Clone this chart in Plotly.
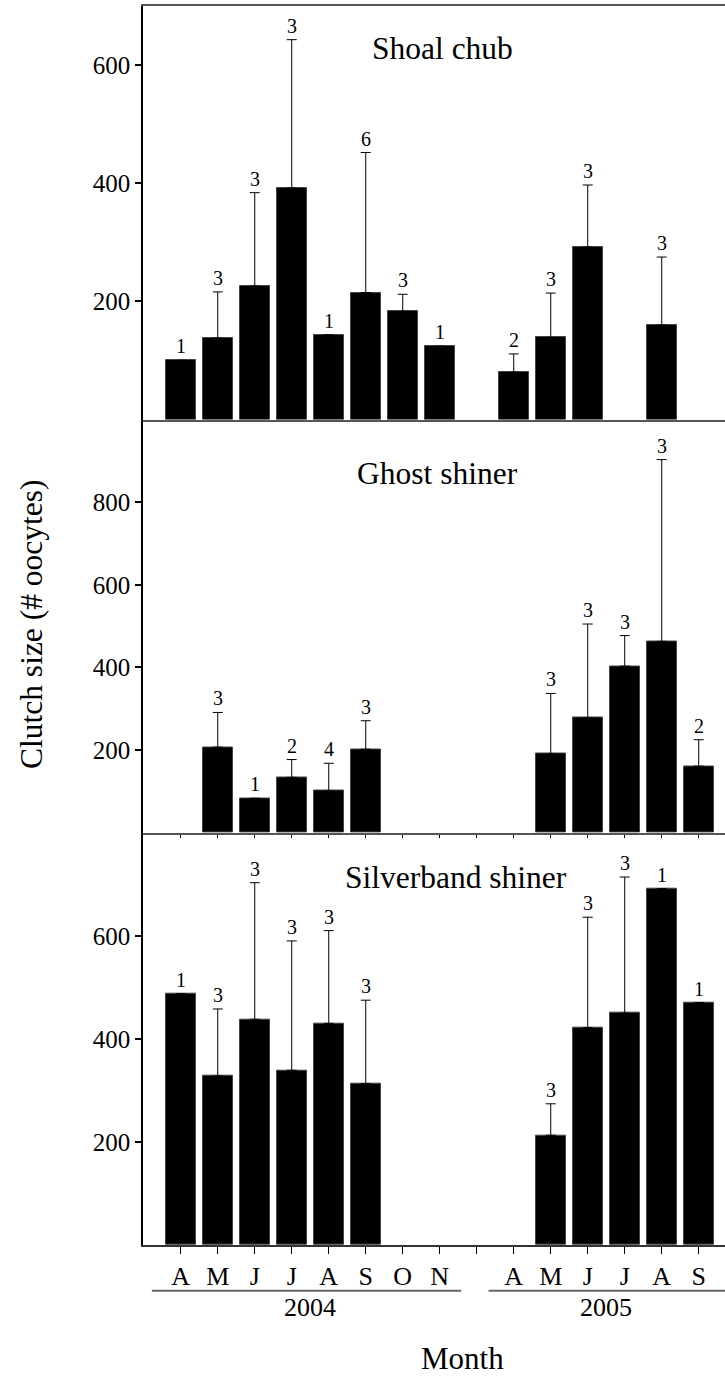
import numpy as np
import plotly.graph_objects as go
from plotly.subplots import make_subplots

# Month categories (index 8 is the gap between the two sampling years)
month_labels = ["A", "M", "J", "J", "A", "S", "O", "N", "", "A", "M", "J", "J", "A", "S"]
positions = list(range(len(month_labels)))
years = ["2004", "2005"]
year_span = [(0, 7), (9, 14)]

# Shoal chub: mean clutch size, mean + SE, sample size
shoal_mean = [100, 138, 226, 392, 143, 215, 183, 124, None, 80, 139, 292, None, 160, None]
shoal_upper = [None, 216, 384, 643, None, 452, 212, None, None, 111, 214, 397, None, 275, None]
shoal_n = [1, 3, 3, 3, 1, 6, 3, 1, None, 2, 3, 3, None, 3, None]

# Ghost shiner
ghost_mean = [None, 207, 83, 134, 101, 202, None, None, None, None, 191, 278, 403, 463, 161]
ghost_upper = [None, 291, None, 177, 168, 271, None, None, None, None, 337, 505, 477, 903, 225]
ghost_n = [None, 3, 1, 2, 4, 3, None, None, None, None, 3, 3, 3, 3, 2]

# Silverband shiner
silver_mean = [487, 328, 438, 339, 430, 313, None, None, None, None, 213, 422, 450, 691, 470]
silver_upper = [None, 458, 703, 590, 610, 475, None, None, None, None, 274, 636, 714, None, None]
silver_n = [1, 3, 3, 3, 3, 3, None, None, None, None, 3, 3, 3, 1, 1]

species = ["Shoal chub", "Ghost shiner", "Silverband shiner"]
panels = [
    (shoal_mean, shoal_upper, shoal_n, [0, 700], [200, 400, 600]),
    (ghost_mean, ghost_upper, ghost_n, [0, 1000], [200, 400, 600, 800]),
    (silver_mean, silver_upper, silver_n, [0, 800], [200, 400, 600]),
]

FONT = "Liberation Serif, Times New Roman, serif"
W, H = 725, 1379
ML, MR, MT, MB = 143, 0, 6, 134
plot_h = H - MT - MB

fig = make_subplots(rows=3, cols=1, shared_xaxes=True, vertical_spacing=0)

def to_arr(v):
    return np.array([np.nan if x is None else x for x in v], dtype=float)

annotations = []
for k, (mean, upper, n, yr, tv) in enumerate(panels, start=1):
    m = to_arr(mean)
    u = to_arr(upper)
    err = u - m
    fig.add_trace(
        go.Bar(
            x=positions, y=m, width=0.82,
            marker=dict(color="black", line=dict(color="#444", width=1)),
            error_y=dict(type="data", symmetric=False, array=err,
                         arrayminus=np.zeros_like(err),
                         color="black", thickness=1, width=5),
            showlegend=False, hoverinfo="skip",
        ),
        row=k, col=1,
    )
    # sample sizes above each bar (or its error bar)
    xr = "x" if k == 1 else f"x{k}"
    yrf = "y" if k == 1 else f"y{k}"
    for i in positions:
        if n[i] is None:
            continue
        top = upper[i] if upper[i] is not None else mean[i]
        annotations.append(dict(
            x=i, y=top, xref=xr, yref=yrf, text=str(n[i]), showarrow=False,
            yanchor="bottom", xanchor="center", yshift=1,
            font=dict(family=FONT, size=20, color="black"),
        ))

# panel boundaries in pixels
b1, b2, bottom = 419.5, 832.7, H - MB
def py(p):
    return (bottom - p) / plot_h

domains = [[py(b1), 1.0], [py(b2), py(b1)], [0.0, py(b2)]]

xrange = [-1.02, 14.71]
for k in range(1, 4):
    mean, upper, n, yr, tv = panels[k - 1]
    ya = "yaxis" if k == 1 else f"yaxis{k}"
    xa = "xaxis" if k == 1 else f"xaxis{k}"
    fig.layout[ya].update(
        domain=domains[k - 1], range=yr, tickvals=tv,
        showline=True, linecolor="black", linewidth=1.5,
        ticks="outside", ticklen=6, tickwidth=1.5, tickcolor="black",
        tickfont=dict(family=FONT, size=25, color="black"),
        showgrid=False, zeroline=False,
    )
    xa_opts = dict(range=xrange, showgrid=False, zeroline=False,
                   showline=True, linewidth=2)
    if k == 1:
        xa_opts.update(linecolor="#555", mirror=True, ticks="", showticklabels=False)
    elif k == 2:
        xa_opts.update(linecolor="#555", ticks="outside", ticklen=3, tickwidth=1,
                       tickcolor="black", tickvals=positions, showticklabels=False)
    else:
        xa_opts.update(linecolor="#333", linewidth=1.5, ticks="outside", ticklen=7,
                       tickwidth=1, tickcolor="black", tickvals=positions,
                       ticktext=month_labels, showticklabels=True,
                       tickfont=dict(family=FONT, size=26, color="black"))
    fig.layout[xa].update(**xa_opts)

# species names inside the panels
title_pos = [(443, 48), (437.5, 474), (455.8, 877.5)]
for name, (tx, ty) in zip(species, title_pos):
    annotations.append(dict(
        x=(tx - ML) / (W - ML - MR), y=py(ty), xref="paper", yref="paper",
        text=name, showarrow=False, xanchor="center", yanchor="middle",
        font=dict(family=FONT, size=31.5, color="black"),
    ))

# year groups under the month labels
shapes = []
line_y = py(1290.7)
year_lines = [(-0.78, 7.58), (8.32, 14.71)]
for yname, (a, b), (l0, l1) in zip(years, year_span, year_lines):
    shapes.append(dict(type="line", xref="x3", yref="paper", x0=l0, x1=l1,
                       y0=line_y, y1=line_y, line=dict(color="#666", width=2)))
    annotations.append(dict(
        x=(a + b) / 2, y=py(1307.5), xref="x3", yref="paper", text=yname,
        showarrow=False, xanchor="center", yanchor="middle",
        font=dict(family=FONT, size=26, color="black"),
    ))

annotations.append(dict(
    x=(462 - ML) / (W - ML - MR), y=py(1358), xref="paper", yref="paper",
    text="Month", showarrow=False, xanchor="center", yanchor="middle",
    font=dict(family=FONT, size=31, color="black"),
))
annotations.append(dict(
    x=(31 - ML) / (W - ML - MR), y=py(624), xref="paper", yref="paper",
    text="Clutch size (# oocytes)", showarrow=False, textangle=-90,
    xanchor="center", yanchor="middle",
    font=dict(family=FONT, size=31.5, color="black"),
))

fig.update_layout(
    width=W, height=H,
    margin=dict(l=ML, r=MR, t=MT, b=MB, pad=0),
    paper_bgcolor="white", plot_bgcolor="white",
    bargap=0, annotations=annotations, shapes=shapes,
    showlegend=False,
    font=dict(family=FONT, color="black"),
)

fig.write_html("out.html")
